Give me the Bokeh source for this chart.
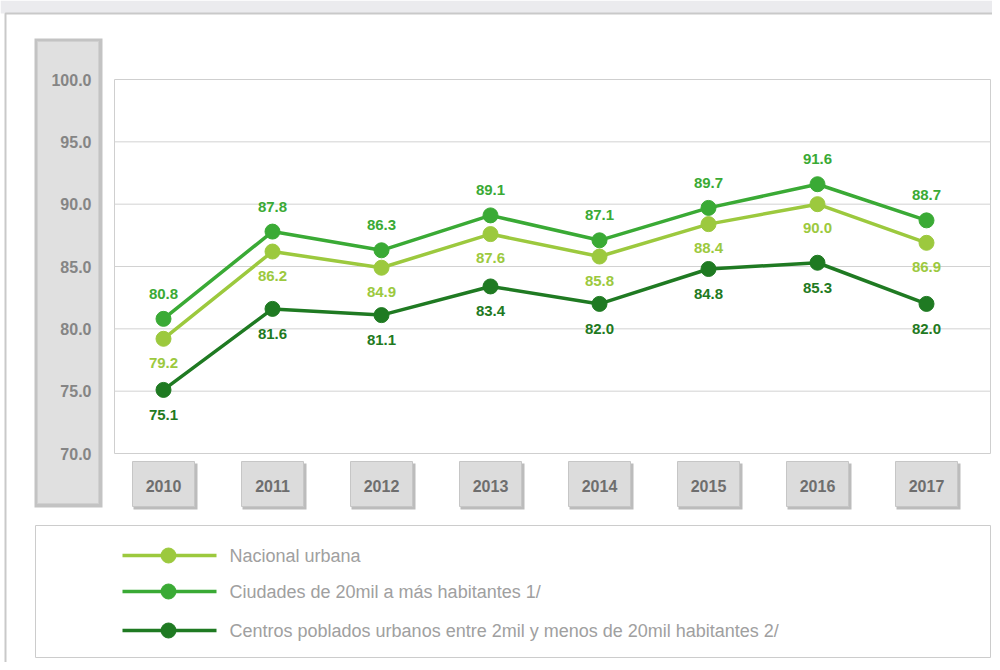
from bokeh.plotting import figure
from bokeh.models import Range1d, ColumnDataSource
from bokeh.core.properties import value
from bokeh.embed import file_html
from bokeh.resources import INLINE

years = ["2010", "2011", "2012", "2013", "2014", "2015", "2016", "2017"]
nacional = [79.2, 86.2, 84.9, 87.6, 85.8, 88.4, 90.0, 86.9]
ciudades = [80.8, 87.8, 86.3, 89.1, 87.1, 89.7, 91.6, 88.7]
centros = [75.1, 81.6, 81.1, 83.4, 82.0, 84.8, 85.3, 82.0]
y_ticks = [70, 75, 80, 85, 90, 95, 100]
series_names = ["Nacional urbana",
                "Ciudades de 20mil a más habitantes 1/",
                "Centros poblados urbanos entre 2mil y menos de 20mil habitantes 2/"]
colors = ["#9cc93e", "#3aaa35", "#1f7a22"]

W, H = 992, 662
OFF = 0
X0, XS = 163.0, 109.0          # image px of first category, px per category
Y100, YS = 79.0, 374.0 / 30.0  # image px of 100, px per unit


def dx(ix):
    return (ix - X0) / XS


def dy(iy):
    return 100 - (iy - Y100) / YS


p = figure(width=W, height=H, output_backend="svg", toolbar_location=None,
           x_axis_type=None, y_axis_type=None,
           x_range=Range1d(dx(OFF), dx(OFF + W)),
           y_range=Range1d(dy(OFF + H), dy(OFF)),
           min_border=0, outline_line_color=None)
p.background_fill_color = "white"
p.border_fill_color = "white"
p.grid.visible = False

FONT = value("Liberation Sans")

# top strip and outer frame
p.quad(left=dx(OFF), right=dx(OFF + W), top=dy(OFF), bottom=dy(13),
       fill_color="#ebebee", line_color=None)
p.quad(left=dx(5), right=dx(1010), top=dy(13), bottom=dy(680),
       fill_color="white", line_color="#c9c9c9", line_width=2)

# y label panel
p.quad(left=dx(34), right=dx(102), top=dy(38), bottom=dy(507),
       fill_color="#c3c3c3", line_color=None)
p.quad(left=dx(37), right=dx(98), top=dy(41), bottom=dy(503),
       fill_color="#e0e0e0", line_color="#d0d0d0")

# plot area
p.quad(left=dx(114), right=dx(990), top=100, bottom=70,
       fill_color="white", line_color="#cfcfcf", line_width=1)
xs_idx = list(range(len(years)))
for t in y_ticks[1:-1]:
    p.segment(x0=dx(114), x1=dx(990), y0=t, y1=t, line_color="#d2d2d2", line_width=1)

# y tick labels
p.text(x=[dx(91)] * len(y_ticks), y=y_ticks, text=[f"{t:.1f}" for t in y_ticks],
       text_align="right", text_baseline="middle", text_font=FONT,
       text_font_size="16px", text_font_style="bold", text_color="#858585")

# year boxes
p.rect(x=[i + 2 / XS for i in xs_idx], y=(dy(463) + dy(509)) / 2, width=64 / XS,
       height=(dy(463) - dy(509)), fill_color="#bcbcbc", line_color=None)
p.rect(x=xs_idx, y=(dy(461) + dy(506)) / 2, width=62 / XS,
       height=(dy(461) - dy(506)), fill_color="#dcdcdc", line_color="#c6c6c6")
p.text(x=xs_idx, y=[dy(485)] * len(years), text=years, text_align="center",
       text_baseline="middle", text_font=FONT, text_font_size="16px",
       text_font_style="bold", text_color="#6e6e6e")

# series
all_series = [nacional, ciudades, centros]
offsets = [24, -25, 25]
for vals, col, off in zip(all_series, colors, offsets):
    src = ColumnDataSource(dict(x=xs_idx, y=vals, lab=[f"{v:.1f}" for v in vals]))
    p.line("x", "y", source=src, line_color=col, line_width=3.5)
    p.scatter("x", "y", source=src, size=15, fill_color=col, line_color=col)
    p.text("x", "y", text="lab", source=src, y_offset=off, text_align="center",
           text_baseline="middle", text_font=FONT, text_font_size="15px",
           text_font_style="bold", text_color=col)

# legend box
p.quad(left=dx(35), right=dx(990), top=dy(525), bottom=dy(657),
       fill_color="white", line_color="#cccccc", line_width=1)
leg_y = [dy(555), dy(591), dy(630)]
for yy, col, name in zip(leg_y, colors, series_names):
    p.segment(x0=dx(122), x1=dx(216), y0=yy, y1=yy, line_color=col, line_width=3.5)
    p.scatter([dx(168)], [yy], size=15, fill_color=col, line_color=col)
    p.text([dx(229)], [yy], text=[name], text_align="left", text_baseline="middle",
           text_font=FONT, text_font_size="18px", text_color="#a0a0a0")

open("out.html", "w").write(file_html(p, INLINE))
